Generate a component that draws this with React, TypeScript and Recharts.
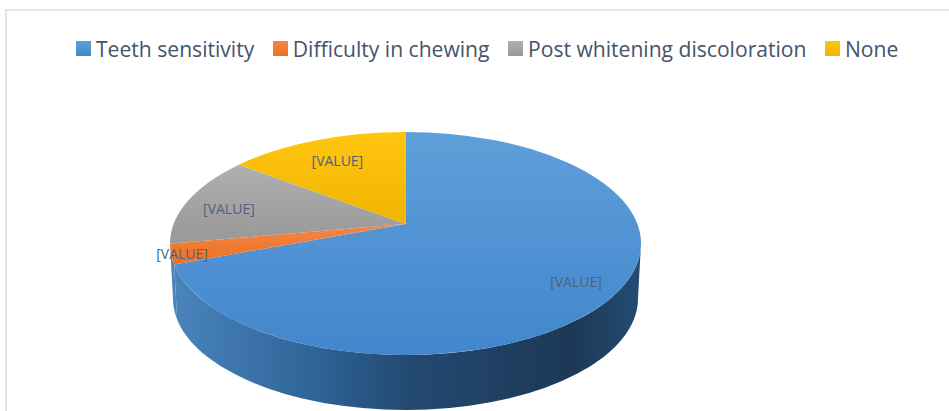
import React from "react";
import { PieChart, Pie, Cell, Legend } from "recharts";

const categories = ["Teeth sensitivity", "Difficulty in chewing", "Post whitening discoloration", "None"];
const shares = [72, 3, 12.5, 12.5];
const labelText = ["[VALUE]", "[VALUE]", "[VALUE]", "[VALUE]"];
const topFills = ["url(#topBlue)", "url(#topOrange)", "url(#topGray)", "url(#topYellow)"];
const wallFills = ["url(#wallBlue)", "url(#wallBlue)", "#7c7c7c", "#bf9000"];
const labelNudge = [
  [-11, -33.5],
  [11, 0],
  [41, 8],
  [22, 20.5],
];

const rows = categories.map((name, i) => ({ name, value: shares[i] }));

const W = 949;
const H = 411;
const CX = 405.5;
const CY = 243.5;
const R = 235.5;
const SQUASH = 111.5 / 235.5;
const APEX_LIFT = 19.5;
const DEPTH = 55;
const WALL_INSET = 3;
const FONT = "'Open Sans', sans-serif";
const RAD = Math.PI / 180;

const rim = (cx: number, cy: number, rx: number, ry: number, a: number) => ({
  x: cx + rx * Math.cos(a * RAD),
  y: cy - ry * Math.sin(a * RAD),
});

function TopFace(p: any) {
  const { cx, cy, outerRadius: r, startAngle: s, endAngle: e, fill } = p;
  const ry = r * SQUASH;
  const a = rim(cx, cy, r, ry, s);
  const b = rim(cx, cy, r, ry, e);
  const large = Math.abs(s - e) > 180 ? 1 : 0;
  const d = `M${cx},${cy - APEX_LIFT} L${a.x},${a.y} A${r},${ry} 0 ${large} 1 ${b.x},${b.y} Z`;
  return <path d={d} fill={fill} stroke="none" />;
}

function Wall(p: any) {
  const { cx, cy, outerRadius: r, startAngle, endAngle, fill } = p;
  const s = Math.min(startAngle, 0);
  const e = Math.max(endAngle, -180);
  if (s <= e) return <g />;
  const ry = r * SQUASH;
  const rb = r - WALL_INSET;
  const a = rim(cx, cy, r, ry, s);
  const b = rim(cx, cy, r, ry, e);
  const c = rim(cx, cy + DEPTH, rb, ry, e);
  const f = rim(cx, cy + DEPTH, rb, ry, s);
  const d = `M${a.x},${a.y} A${r},${ry} 0 0 1 ${b.x},${b.y} L${c.x},${c.y} A${rb},${ry} 0 0 0 ${f.x},${f.y} Z`;
  return <path d={d} fill={fill} stroke="none" />;
}

function SliceLabel(p: any) {
  const { cx, cy, outerRadius: r, midAngle, index } = p;
  const pt = rim(cx, cy, r, r * SQUASH, midAngle);
  const [dx, dy] = labelNudge[index];
  return (
    <text
      x={pt.x + dx}
      y={pt.y + dy}
      textAnchor="middle"
      dominantBaseline="central"
      fontFamily={FONT}
      fontSize={14}
      fill="#51627a"
    >
      {labelText[index]}
    </text>
  );
}

function LegendRow({ payload }: any) {
  const seen = new Set<string>();
  const items = (payload || []).filter((entry: any) => {
    if (seen.has(entry.value)) return false;
    seen.add(entry.value);
    return true;
  });
  const ordered = categories
    .map((name) => items.find((entry: any) => entry.value === name))
    .filter(Boolean);
  return (
    <div style={{ display: "flex", alignItems: "center", fontFamily: FONT, fontSize: 21.1, color: "#44546a", whiteSpace: "nowrap" }}>
      {ordered.map((entry: any, i: number) => (
        <div key={i} style={{ display: "flex", alignItems: "center", marginRight: 18.5 }}>
          <svg width={15} height={15} style={{ marginRight: 5 }}>
            <rect width={15} height={15} fill={topFills[i]} />
          </svg>
          <span>{entry.value}</span>
        </div>
      ))}
    </div>
  );
}

export default function App() {
  return (
    <div style={{ position: "absolute", left: 0, top: 0, width: W, height: H, background: "#fff", overflow: "hidden" }}>
      <div
        style={{
          position: "absolute",
          left: 5,
          top: 9,
          width: W,
          height: H,
          borderTop: "2px solid #e1e5ed",
          borderLeft: "2px solid #e1e5ed",
        }}
      />
      <PieChart width={W} height={H} style={{ position: "absolute", left: 0, top: 0 }} margin={{ top: 0, right: 0, bottom: 0, left: 0 }}>
        <defs>
          <linearGradient id="topBlue" x1="0" y1="0" x2="0" y2="1">
            <stop offset="0" stopColor="#5f9fd9" />
            <stop offset="1" stopColor="#4286cc" />
          </linearGradient>
          <linearGradient id="topOrange" x1="0" y1="0" x2="0" y2="1">
            <stop offset="0" stopColor="#f4864a" />
            <stop offset="1" stopColor="#ed7020" />
          </linearGradient>
          <linearGradient id="topGray" x1="0" y1="0" x2="0" y2="1">
            <stop offset="0" stopColor="#b0b0b0" />
            <stop offset="1" stopColor="#989898" />
          </linearGradient>
          <linearGradient id="topYellow" x1="0" y1="0" x2="0" y2="1">
            <stop offset="0" stopColor="#ffc60f" />
            <stop offset="1" stopColor="#f0b400" />
          </linearGradient>
          <linearGradient id="wallBlue" gradientUnits="userSpaceOnUse" x1="170" y1="0" x2="641" y2="0">
            <stop offset="0" stopColor="#4a85bd" />
            <stop offset="0.3" stopColor="#2f6598" />
            <stop offset="0.5" stopColor="#234a72" />
            <stop offset="0.85" stopColor="#1c3856" />
            <stop offset="1" stopColor="#234c72" />
          </linearGradient>
        </defs>
        <Legend
          content={<LegendRow />}
          layout="horizontal"
          verticalAlign="top"
          align="left"
          itemSorter={null}
          wrapperStyle={{ left: 76, top: 34, width: 860, height: 0 }}
        />
        <Pie
          data={rows}
          dataKey="value"
          nameKey="name"
          cx={CX}
          cy={CY}
          outerRadius={R}
          startAngle={90}
          endAngle={-270}
          legendType="none"
          isAnimationActive={false}
          shape={Wall}
          label={false}
          labelLine={false}
        >
          {rows.map((_, i) => (
            <Cell key={i} fill={wallFills[i]} />
          ))}
        </Pie>
        <Pie
          data={rows}
          dataKey="value"
          nameKey="name"
          cx={CX}
          cy={CY}
          outerRadius={R}
          startAngle={90}
          endAngle={-270}
          isAnimationActive={false}
          shape={TopFace}
          label={SliceLabel}
          labelLine={false}
        >
          {rows.map((_, i) => (
            <Cell key={i} fill={topFills[i]} />
          ))}
        </Pie>
      </PieChart>
    </div>
  );
}
